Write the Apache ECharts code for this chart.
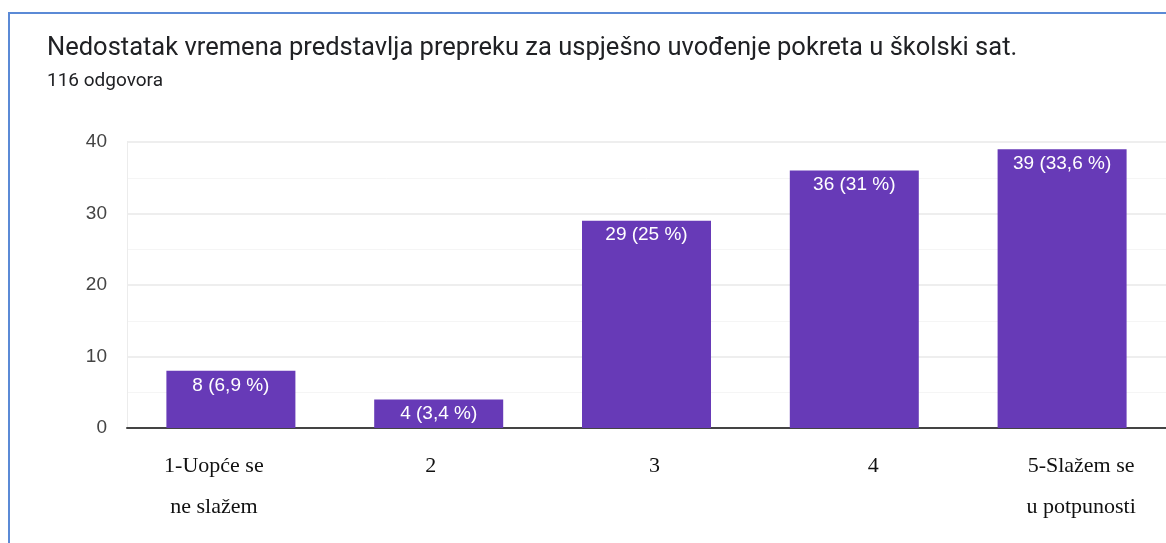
<!DOCTYPE html>
<html>
<head>
<meta charset="utf-8">
<script src="https://cdn.jsdelivr.net/npm/echarts@6/dist/echarts.min.js"></script>
<style>
  html, body { margin: 0; padding: 0; background: #fff; }
  #frame {
    position: absolute; left: 8px; top: 12px; width: 1160px; height: 540px;
    border-top: 2px solid #5b8ad6; border-left: 2px solid #5b8ad6;
  }
  #chart { position: absolute; left: 0; top: 0; width: 1166px; height: 543px; }
</style>
</head>
<body>
<div id="frame"></div>
<div id="chart"></div>
<script>
const categories = ['1-Uopće se\nne slažem', '2', '3', '4', '5-Slažem se\nu potpunosti']
const counts = [8, 4, 29, 36, 39]
const percents = ['6,9', '3,4', '25', '31', '33,6']
// small horizontal nudges of the pasted-in category labels
const labelShift = [-17, -8, 8, 19, 19]
const yTicks = [0, 10, 20, 30, 40]

const chart = echarts.init(document.getElementById('chart'), null, { renderer: 'canvas' })

const axisData = categories.map((c, i) => {
  const dx = labelShift[i]
  return {
    value: c,
    textStyle: { padding: dx < 0 ? [0, -2 * dx, 0, 0] : [0, 0, 0, 2 * dx] },
  }
})

chart.setOption({
  backgroundColor: 'transparent',
  animation: false,
  title: {
    text: 'Nedostatak vremena predstavlja prepreku za uspješno uvođenje pokreta u školski sat.',
    subtext: '116 odgovora',
    left: 42,
    top: 31,
    itemGap: 10,
    textStyle: { fontFamily: 'Roboto', fontSize: 25.5, fontWeight: 'normal', color: '#202124' },
    subtextStyle: { fontFamily: 'Roboto', fontSize: 19, color: '#202124' },
  },
  grid: { left: 127, top: 142, bottom: 115, width: 1049, containLabel: false },
  xAxis: {
    type: 'category',
    data: axisData,
    axisLine: { show: true, lineStyle: { color: '#444', width: 2 } },
    axisTick: { show: false },
    axisLabel: {
      fontFamily: 'Liberation Serif',
      fontSize: 22,
      lineHeight: 41,
      color: '#111',
      margin: 18,
      interval: 0,
    },
  },
  yAxis: {
    type: 'value',
    min: yTicks[0],
    max: yTicks[yTicks.length - 1],
    interval: 10,
    axisLine: { show: true, lineStyle: { color: '#ececec' } },
    axisTick: { show: false },
    axisLabel: { fontFamily: 'Liberation Sans', fontSize: 19, color: '#444', margin: 20 },
    splitLine: { lineStyle: { color: '#e8e8e8', width: 1.5 } },
    minorTick: { show: false, splitNumber: 2 },
    minorSplitLine: { show: true, lineStyle: { color: '#f5f5f5' } },
  },
  series: [
    {
      type: 'bar',
      data: counts,
      barWidth: 129,
      itemStyle: { color: '#673ab7' },
      label: {
        show: true,
        position: 'insideTop',
        distance: 5,
        fontFamily: 'Liberation Sans',
        fontSize: 19,
        color: '#fff',
        formatter: (p) => `${p.value} (${percents[p.dataIndex]} %)`,
      },
    },
  ],
})
</script>
</body>
</html>
